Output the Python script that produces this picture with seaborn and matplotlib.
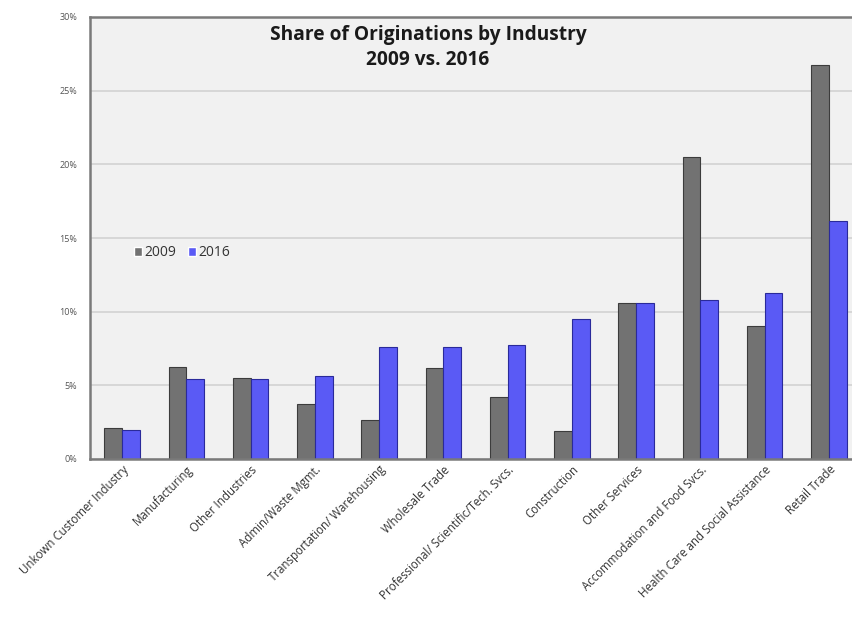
import matplotlib
matplotlib.use("Agg")
import matplotlib.pyplot as plt
import seaborn as sns
import pandas as pd
from matplotlib.ticker import PercentFormatter

categories = ["Unkown Customer Industry", "Manufacturing", "Other Industries",
              "Admin/Waste Mgmt.", "Transportation/ Warehousing", "Wholesale Trade",
              "Professional/ Scientific/Tech. Svcs.", "Construction", "Other Services",
              "Accommodation and Food Svcs.", "Health Care and Social Assistance",
              "Retail Trade"]
share_2009 = [2.1, 6.25, 5.5, 3.7, 2.65, 6.2, 4.2, 1.9, 10.6, 20.5, 9.0, 26.75]
share_2016 = [2.0, 5.4, 5.4, 5.6, 7.6, 7.6, 7.75, 9.5, 10.6, 10.8, 11.3, 16.15]
years = ["2009", "2016"]
y_ticks = [0, 5, 10, 15, 20, 25, 30]

df = pd.DataFrame({
    "Industry": categories * 2,
    "Year": [years[0]] * len(categories) + [years[1]] * len(categories),
    "Share": share_2009 + share_2016,
})

sns.set_theme(style="white")
plt.rcParams['font.family'] = ['Open Sans', 'DejaVu Sans']

fig = plt.figure(figsize=(8.53, 6.18), dpi=100)
W, H = 853, 618
left, right, top, bottom = 90, 861, 17, 459
ax = fig.add_axes([left / W, 1 - bottom / H, (right - left) / W, (bottom - top) / H])
ax.set_facecolor("#f1f1f1")

palette = {"2009": "#727272", "2016": "#5a5af5"}
sns.barplot(data=df, x="Industry", y="Share", hue="Year", order=categories,
            hue_order=years, palette=palette, width=0.55, saturation=1,
            ax=ax, legend=True)
edge = {"2009": "#3c3c3c", "2016": "#2a2a9a"}
for cont, yr in zip(ax.containers, years):
    for b in cont:
        b.set_edgecolor(edge[yr])
        b.set_linewidth(0.8)

ax.set_xlim(-0.5, len(categories) - 0.5)
ax.set_ylim(0, 30)
ax.set_yticks(y_ticks)
ax.yaxis.set_major_formatter(PercentFormatter(decimals=0))
ax.yaxis.grid(True, color="#d2d2d2", linewidth=1.2)
ax.set_axisbelow(True)
ax.set_xlabel("")
ax.set_ylabel("")

for s in ["left", "top", "bottom"]:
    ax.spines[s].set_color("#7a7a7a")
    ax.spines[s].set_linewidth(1.8)
ax.spines["right"].set_visible(False)

ax.tick_params(axis="y", labelsize=6.5, labelcolor="#555555", length=0, pad=9)
ax.tick_params(axis="x", labelsize=8.3, labelcolor="#333333", length=0, pad=3)
plt.setp(ax.get_xticklabels(), rotation=45, ha="right", rotation_mode="anchor")

fig.text(428 / W, 1 - 35 / H, "Share of Originations by Industry", ha="center",
         va="center", fontsize=13.8, fontweight="bold", color="#1a1a1a")
fig.text(428 / W, 1 - 60 / H, "2009 vs. 2016", ha="center",
         va="center", fontsize=13.8, fontweight="bold", color="#1a1a1a")

leg = ax.legend(loc="center left", bbox_to_anchor=((128 - left) / (right - left), 1 - (253 - top) / (bottom - top)),
                ncol=2, frameon=False, fontsize=10, handlelength=0.6, handleheight=0.6,
                handletextpad=0.2, columnspacing=0.8, borderaxespad=0)
for t in leg.get_texts():
    t.set_color("#333333")

fig.savefig("out.png", dpi=100)
